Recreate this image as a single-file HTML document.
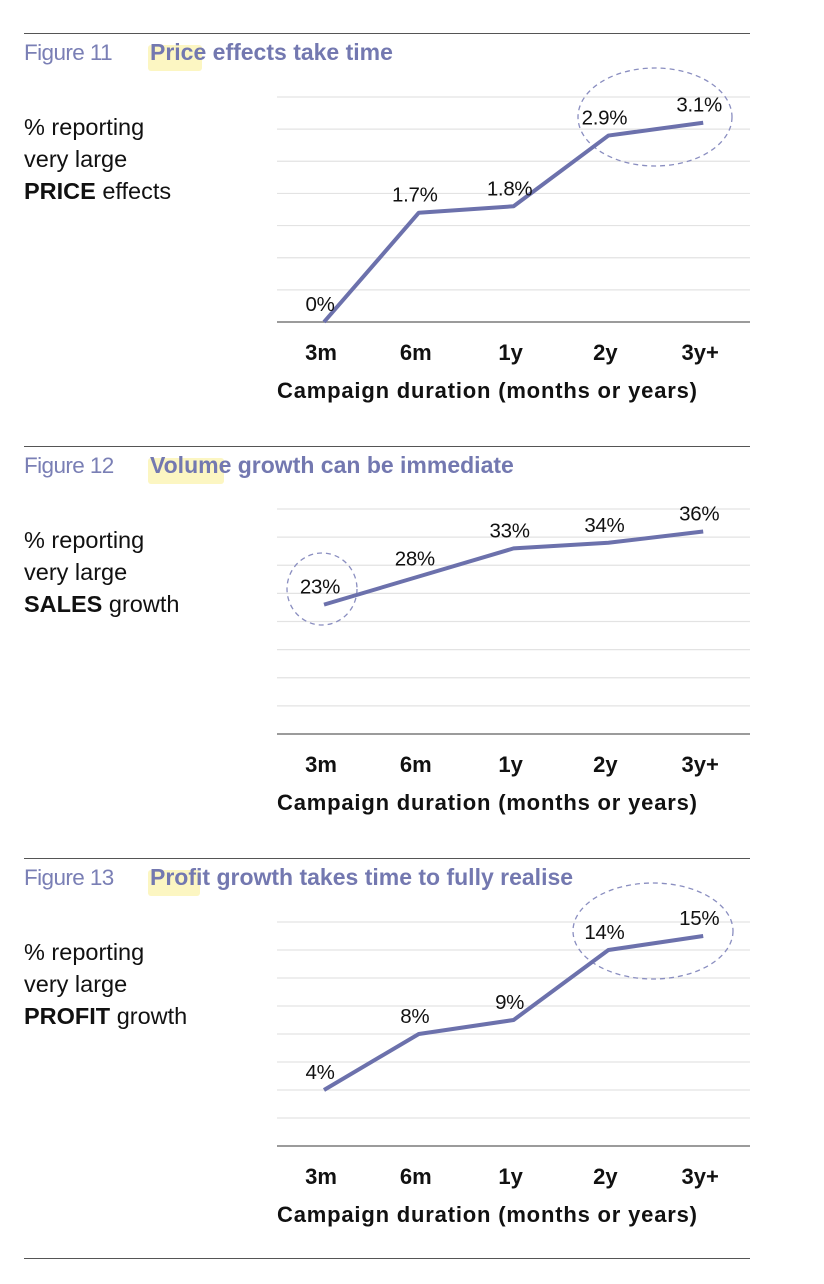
<!DOCTYPE html>
<html><head><meta charset="utf-8"><style>
body{margin:0;background:#fff;width:824px;height:1284px;overflow:hidden}
svg{display:block;font-family:"Liberation Sans",sans-serif}
</style></head><body>
<svg id="s" width="824" height="1284"></svg>
<script>
const categories=["3m","6m","1y","2y","3y+"];
const priceValues=[0,1.7,1.8,2.9,3.1];
const priceLabels=["0%","1.7%","1.8%","2.9%","3.1%"];
const salesValues=[23,28,33,34,36];
const salesLabels=["23%","28%","33%","34%","36%"];
const profitValues=[4,8,9,14,15];
const profitLabels=["4%","8%","9%","14%","15%"];
const priceTicks=[0,0.5,1,1.5,2,2.5,3,3.5];
const salesTicks=[0,5,10,15,20,25,30,35,40];
const profitTicks=[0,2,4,6,8,10,12,14,16];

const NS="http://www.w3.org/2000/svg";
const svg=document.getElementById('s');
function mk(tag,attrs,parent,text){const e=document.createElementNS(NS,tag);for(const k in attrs)e.setAttribute(k,attrs[k]);if(text!=null)e.textContent=text;(parent||svg).appendChild(e);return e;}
const C="#6c71ac";
const figs=[
 {top:33,num:"Figure 11",title:"Price effects take time",hl:54,word:"PRICE",rest:" effects",vals:priceValues,labs:priceLabels,ticks:priceTicks,base:322,topG:97,ell:{cx:655,cy:117,rx:77,ry:49},name:"price"},
 {top:446,num:"Figure 12",title:"Volume growth can be immediate",hl:76,word:"SALES",rest:" growth",vals:salesValues,labs:salesLabels,ticks:salesTicks,base:734,topG:509,ell:{cx:322,cy:589,rx:35,ry:36},name:"sales"},
 {top:858,num:"Figure 13",title:"Profit growth takes time to fully realise",hl:52,word:"PROFIT",rest:" growth",vals:profitValues,labs:profitLabels,ticks:profitTicks,base:1146,topG:922,ell:{cx:653,cy:931,rx:80,ry:48},name:"profit"}
];
mk('line',{x1:24,x2:750,y1:1258.5,y2:1258.5,stroke:"#555","stroke-width":1,});
const x0=324,dx=94.8;
function xs(i){return x0+i*dx;}
figs.forEach(f=>{
 const g=mk('g',{});
 
 
 const r=mk('line',{x1:24,x2:750,y1:f.top+0.5,y2:f.top+0.5,stroke:"#555","stroke-width":1},g);
 
 const h=mk('rect',{x:148,y:f.top+12,width:f.hl,height:26,fill:"#fcf6c2",rx:3},g);
 
 const n=mk('text',{x:24,y:f.top+27,fill:"#7a7fb5","font-size":22.5,"letter-spacing":"-0.6"},g,f.num);
 
 const t=mk('text',{x:150,y:f.top+27,fill:"#7378b0","font-size":23,"font-weight":"bold","letter-spacing":"0"},g,f.title);
 
 const yl=mk('text',{x:24,"font-size":23.5,fill:"#111"},g);
 
 const yb=f.top+102;
 mk('tspan',{x:24,y:yb},yl,"% reporting");
 mk('tspan',{x:24,y:yb+32},yl,"very large");
 const l3=mk('tspan',{x:24,y:yb+64},yl);
 mk('tspan',{"font-weight":"bold"},l3,f.word);mk('tspan',{},l3,f.rest);
 const tmin=f.ticks[0],tmax=f.ticks[f.ticks.length-1];
 const ys=v=>f.base-(v-tmin)/(tmax-tmin)*(f.base-f.topG);
 f.ticks.forEach((tv,i)=>{
  const gl=mk('line',{x1:277,x2:750,y1:ys(tv),y2:ys(tv),stroke:i==0?"#7a7a7a":"#e3e3e3","stroke-width":i==0?1.5:1.2},g);
  
 });
 const e=mk('ellipse',{cx:f.ell.cx,cy:f.ell.cy,rx:f.ell.rx,ry:f.ell.ry,fill:"none",stroke:"#8a8ec0","stroke-width":1.3,"stroke-dasharray":"5 4"},g);
 
 const pts=f.vals.map((v,i)=>xs(i)+","+ys(v)).join(" ");
 const pl=mk('polyline',{points:pts,fill:"none",stroke:C,"stroke-width":4,"stroke-linejoin":"round"},g);
 
 f.vals.forEach((v,i)=>{
  const lb=mk('text',{x:xs(i)-4,y:ys(v)-11,"text-anchor":"middle","font-size":20.5,fill:"#111","letter-spacing":"-0.3"},g,f.labs[i]);
  
 });
 categories.forEach((c,i)=>{
  const tk=mk('text',{x:xs(i)-3,y:f.base+38,"text-anchor":"middle","font-size":22,"font-weight":"bold",fill:"#111"},g,c);
  
 });
 const xt=mk('text',{x:277,y:f.base+76,"font-size":22,"font-weight":"bold",fill:"#111",textLength:420,lengthAdjust:"spacing"},g,"Campaign duration (months or years)");
 
});
</script>
</body></html>
